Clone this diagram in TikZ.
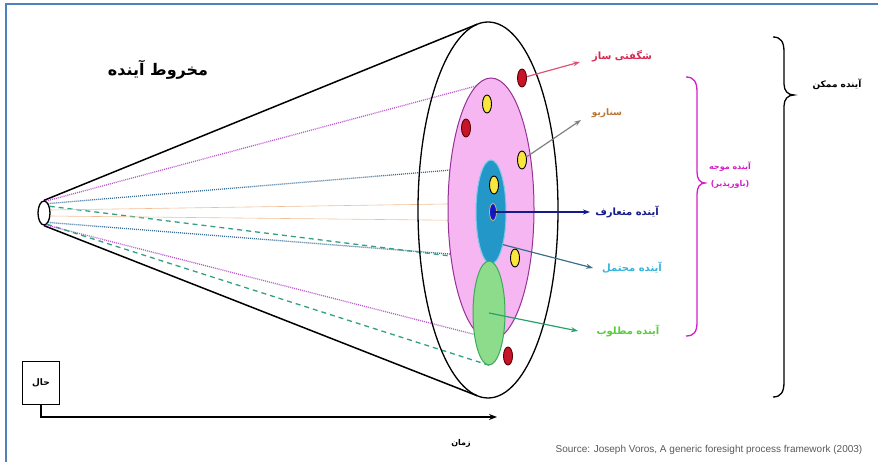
\documentclass[tikz,border=0pt]{standalone}
\usepackage{fontspec}
\usepackage{xcolor}
\usetikzlibrary{arrows.meta,calc,positioning,shapes.geometric}
\newfontfamily\fafont[Script=Arabic]{DejaVu Sans}
\newfontfamily\srcfont{Liberation Sans}
\TeXXeTstate=1
\newcommand{\fatext}[1]{\beginR #1\endR}
\definecolor{framecol}{RGB}{79,129,189}
\definecolor{plausfill}{RGB}{246,182,242}
\definecolor{plausline}{RGB}{150,50,150}
\definecolor{probfill}{RGB}{35,152,200}
\definecolor{probline}{RGB}{120,200,230}
\definecolor{preffill}{RGB}{140,220,140}
\definecolor{prefline}{RGB}{60,170,90}
\definecolor{corefill}{RGB}{20,20,200}
\definecolor{coreline}{RGB}{200,190,120}
\definecolor{redfill}{RGB}{200,20,40}
\definecolor{redline}{RGB}{90,0,0}
\definecolor{yellowfill}{RGB}{250,230,60}
\definecolor{wildcol}{RGB}{215,40,80}
\definecolor{scencol}{RGB}{185,115,50}
\definecolor{convcol}{RGB}{20,25,140}
\definecolor{probcol}{RGB}{55,180,220}
\definecolor{prefcol}{RGB}{90,205,60}
\definecolor{magcol}{RGB}{210,30,200}
\definecolor{probarrow}{RGB}{60,110,140}
\definecolor{prefarrow}{RGB}{40,160,110}
\definecolor{raypink}{RGB}{185,90,205}
\definecolor{rayblue}{RGB}{60,110,150}
\definecolor{raygreen}{RGB}{50,160,130}
\definecolor{rayorange}{RGB}{240,190,150}
\tikzset{
  fa/.style={font=\fafont\bfseries\fontsize{#1}{#1}\selectfont, inner sep=1pt},
  seed/.style={ellipse, draw, line width=0.9, minimum width=9, minimum height=18, inner sep=0},
  redseed/.style={seed, fill=redfill, draw=redline},
  yellowseed/.style={seed, fill=yellowfill, draw=black},
  zone/.style={ellipse, inner sep=0},
  ray/.style={line width=1.3},
  pointer/.style={line width=1.2, -{Stealth[length=7pt,width=5pt]}},
  bracket/.style={line width=1.3}
}
\begin{document}
\begin{tikzpicture}[x=1pt, y=-1pt]
\useasboundingbox (0,0) rectangle (878,462);
% frame
\draw[framecol, line width=2] (6,462) -- (6,4) -- (878,4);
\node[fa=16] (title) at (158,70) {\fatext{مخروط آینده}};
% cone
\node[zone, draw, line width=1.3, minimum width=12, minimum height=24] (apex) at (44,213) {};
\node[zone, minimum width=140, minimum height=376] (cone) at (488,210) {};
\coordinate (ctop) at ($(cone.center)+(-99:70 and 188)$);
\coordinate (cbot) at ($(cone.center)+(99:70 and 188)$);
\draw[line width=1.5] (apex.north) -- (ctop);
\draw[line width=1.5] (apex.south) -- (cbot);
% rays
\node[zone, minimum width=86, minimum height=262] (plaus) at (491,209) {};
\node[zone, minimum width=30, minimum height=104] (prob) at (491,212) {};
\node[zone, minimum width=32, minimum height=104] (pref) at (489,313) {};
\node[zone, minimum width=7, minimum height=17] (core) at (493,212) {};
\draw[ray, raypink, dash pattern=on 1pt off 1pt] (apex.80) -- (plaus.97);
\draw[ray, raypink, dash pattern=on 1pt off 1pt] (apex.-80) -- (plaus.-95);
\draw[ray, rayblue, dash pattern=on 1pt off 1pt] (apex.65) -- (prob.100);
\draw[ray, rayblue, dash pattern=on 1pt off 1pt] (apex.-65) -- (prob.-100);
\draw[ray, raygreen, dash pattern=on 5pt off 4pt] (apex.50) -- (pref.north);
\draw[ray, raygreen, dash pattern=on 5pt off 4pt] (apex.-75) -- (pref.south);
\draw[rayorange, line width=0.6] (apex.25) -- (core.north);
\draw[rayorange, line width=0.6] (apex.-25) -- (core.south);
% future zones
\draw[line width=1.3] (cone.center) ellipse (70 and 188);
\draw[plausline, fill=plausfill, line width=1] (plaus.center) ellipse (43 and 131);
\draw[probline, fill=probfill, line width=1] (prob.center) ellipse (15 and 52);
\draw[prefline, fill=preffill, line width=1] (pref.center) ellipse (16 and 52);
\draw[coreline, fill=corefill, line width=0.8] (core.center) ellipse (3.5 and 8.5);
% seeds
\node[redseed] (r1) at (522,78) {};
\node[redseed] (r2) at (466,128) {};
\node[redseed] (r3) at (508,356) {};
\node[yellowseed] (y1) at (487,104) {};
\node[yellowseed] (y2) at (522,160) {};
\node[yellowseed] (y3) at (494,185) {};
\node[yellowseed] (y4) at (515,258) {};
% pointers and labels
\coordinate (tipWild) at (580,62);
\coordinate (tipScen) at (581,120);
\coordinate (tipConv) at (590,212);
\coordinate (tipProb) at (593,268);
\coordinate (tipPref) at (578,331);
\draw[pointer, wildcol!80] (r1) -- (tipWild);
\draw[pointer, gray] (y2) -- (tipScen);
\draw[pointer, convcol] (core.center) -- (tipConv);
\draw[pointer, probarrow] (prob.-70) -- (tipProb);
\draw[pointer, prefarrow] (pref.center) -- (tipPref);
\node[fa=10, wildcol] (wild) at (622,56) {\fatext{شگفتی ساز}};
\node[fa=9, scencol] (scen) at (607,113) {\fatext{سناریو}};
\node[fa=10, convcol] (conv) at (627,212) {\fatext{آینده متعارف}};
\node[fa=10, probcol] (problbl) at (632,268) {\fatext{آینده محتمل}};
\node[fa=10, prefcol] (preflbl) at (628,331) {\fatext{آینده مطلوب}};
% braces
\draw[bracket, magcol] (686,77) .. controls (694,77) and (697,82) .. (697,92)
  -- (697,172) .. controls (697,179) and (700,183) .. (705,183)
  .. controls (700,183) and (697,187) .. (697,194) -- (697,322)
  .. controls (697,332) and (694,336) .. (686,336);
\node[fa=8, magcol] (mag1) at (730,167) {\fatext{آینده موجه}};
\node[fa=8, magcol, below=6pt of mag1] (mag2) {)\fatext{باورپذیر}(};
\draw[bracket] (773,37) .. controls (781,37) and (784,42) .. (784,52)
  -- (784,84) .. controls (784,91) and (788,95) .. (794,95)
  .. controls (788,95) and (784,99) .. (784,106) -- (784,382)
  .. controls (784,392) and (781,397) .. (773,397);
\node[fa=9] (possible) at (837,84) {\fatext{آینده ممکن}};
% time axis
\node[draw, line width=1, minimum width=37, minimum height=43, fa=9] (now) at (41,383) {\fatext{حال}};
\coordinate (timeTip) at (497,417);
\draw[line width=1.3, -{Stealth[length=8pt,width=6pt]}] (now.south) |- (timeTip);
\node[fa=8] (time) at (461,443) {\fatext{زمان}};
\node[font=\srcfont\fontsize{10}{12}\selectfont, text=black!65] (source) at (709,450) {Source: Joseph Voros, A generic foresight process framework (2003)};
\end{tikzpicture}
\end{document}
